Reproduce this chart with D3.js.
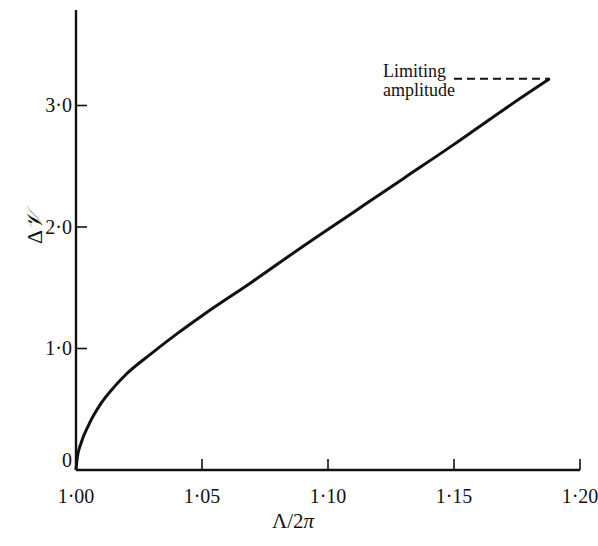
<!DOCTYPE html>
<html>
<head>
<meta charset="utf-8">
<script src="https://cdn.jsdelivr.net/npm/d3@7"></script>
<style>
  body { margin: 0; background: #fff; }
  svg { display: block; }
  text { font-family: 'Liberation Serif', 'DejaVu Serif', serif; fill: #111; }
</style>
</head>
<body>
<svg id="chart" width="598" height="546"></svg>
<script>
// wavelength ratio vs amplitude
var lambdaRatio = [1.000, 1.0005, 1.002, 1.005, 1.010, 1.015, 1.020, 1.030, 1.040, 1.050,
  1.070, 1.090, 1.110, 1.130, 1.150, 1.170, 1.188];
var deltaV = [0, 0.10, 0.22, 0.37, 0.55, 0.68, 0.79, 0.96, 1.12, 1.27,
  1.55, 1.84, 2.12, 2.40, 2.68, 2.97, 3.22];

var xTicks = [1.00, 1.05, 1.10, 1.15, 1.20];
var xTickLabels = ['1·00', '1·05', '1·10', '1·15', '1·20'];
var yTicks = [0, 1, 2, 3];
var yTickLabels = ['0', '1·0', '2·0', '3·0'];

var limitX = [1.15, 1.188];
var limitY = 3.22;

var svg = d3.select('#chart');

var x = d3.scaleLinear().domain([1.0, 1.2]).range([76, 580]);
var y = d3.scaleLinear().domain([0, 3.786]).range([470, 10]);

var ink = '#111';

// axes lines
svg.append('line')
  .attr('x1', x(1.0)).attr('x2', x(1.2))
  .attr('y1', y(0)).attr('y2', y(0))
  .attr('stroke', ink).attr('stroke-width', 2.4);

svg.append('line')
  .attr('x1', x(1.0)).attr('x2', x(1.0))
  .attr('y1', y(0)).attr('y2', y(3.786))
  .attr('stroke', ink).attr('stroke-width', 2.4);

// x ticks (pointing inward)
xTicks.forEach(function (t, i) {
  if (i > 0) {
    svg.append('line')
      .attr('x1', x(t)).attr('x2', x(t))
      .attr('y1', y(0)).attr('y2', y(0) - 11)
      .attr('stroke', ink).attr('stroke-width', 1.6);
  }
  svg.append('text')
    .attr('x', x(t))
    .attr('y', y(0) + 33)
    .attr('text-anchor', 'middle')
    .attr('font-size', '20px')
    .text(xTickLabels[i]);
});

// y ticks
yTicks.forEach(function (t, i) {
  if (i > 0) {
    svg.append('line')
      .attr('x1', x(1.0)).attr('x2', x(1.0) + 11)
      .attr('y1', y(t)).attr('y2', y(t))
      .attr('stroke', ink).attr('stroke-width', 1.6);
  }
  svg.append('text')
    .attr('x', x(1.0) - 4)
    .attr('y', y(t) + (i === 0 ? -3 : 7))
    .attr('text-anchor', 'end')
    .attr('font-size', '20px')
    .text(yTickLabels[i]);
});

// curve
var pts = lambdaRatio.map(function (d, i) { return [d, deltaV[i]]; });
var line = d3.line()
  .x(function (d) { return x(d[0]); })
  .y(function (d) { return y(d[1]); })
  .curve(d3.curveMonotoneX);

svg.append('path')
  .attr('d', line(pts))
  .attr('fill', 'none')
  .attr('stroke', ink)
  .attr('stroke-width', 3);

// limiting amplitude marker
svg.append('line')
  .attr('x1', x(limitX[0])).attr('x2', x(limitX[1]))
  .attr('y1', y(limitY)).attr('y2', y(limitY))
  .attr('stroke', ink).attr('stroke-width', 2)
  .attr('stroke-dasharray', '8,5');

svg.append('text')
  .attr('x', 383).attr('y', 77)
  .attr('font-size', '18px')
  .text('Limiting');
svg.append('text')
  .attr('x', 383).attr('y', 96)
  .attr('font-size', '18px')
  .text('amplitude');

// axis titles
var xt = svg.append('text')
  .attr('x', 293).attr('y', 528)
  .attr('text-anchor', 'middle')
  .attr('font-size', '21px');
xt.append('tspan').text('Λ/2');
xt.append('tspan').attr('font-style', 'italic').text('π');

var yt = svg.append('text')
  .attr('transform', 'translate(42,228) rotate(-90)')
  .attr('text-anchor', 'middle')
  .attr('font-size', '22px');
yt.append('tspan').text('Δ');
yt.append('tspan').attr('font-style', 'italic').text('𝒱');
</script>
</body>
</html>
